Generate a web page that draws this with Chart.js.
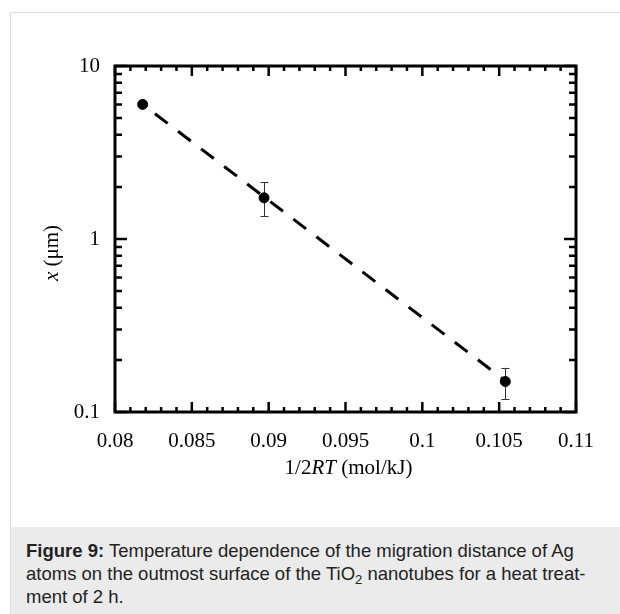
<!DOCTYPE html>
<html>
<head>
<meta charset="utf-8">
<script src="https://cdn.jsdelivr.net/npm/chart.js@4"></script>
<style>
  html, body { margin: 0; padding: 0; background: #fff; }
  #panel {
    position: absolute; left: 10px; top: 12px;
    width: 610px; height: 602px;
    border-left: 1px solid #dcdcdc; border-top: 1px solid #dcdcdc;
    box-sizing: border-box;
  }
  #chart { display: block; }
  #caption {
    position: absolute; left: 0; top: 514px; width: 609px; height: 87px;
    background: #ebebeb; box-sizing: border-box;
    padding: 12px 0 0 15px;
    font: 18.5px "Liberation Sans", Arial, sans-serif; line-height: 23px; color: #222;
    white-space: nowrap;
  }
  #caption sub { font-size: 13px; line-height: 0; vertical-align: -4px; }
</style>
</head>
<body>
<div id="panel">
  <canvas id="chart" width="609" height="514"></canvas>
  <div id="caption"><b>Figure 9:</b> Temperature dependence of the migration distance of Ag<br>atoms on the outmost surface of the TiO<sub>2</sub> nanotubes for a heat treat-<br>ment of 2 h.</div>
</div>
<script>
const xTicks = [0.08, 0.085, 0.09, 0.095, 0.1, 0.105, 0.11];
const yTicks = [0.1, 1, 10];

// measured points, 1/2RT vs x
const invRT  = [0.0818, 0.0897, 0.1054];
const dist   = [6.0, 1.73, 0.150];
const errLo  = [null, 1.35, 0.119];
const errHi  = [null, 2.13, 0.180];

// fitted line (dashed)
const fitX = [0.0826, 0.1053];
const fitY = [5.3, 0.154];

const serif = '"Liberation Serif", "Times New Roman", serif';

const errorBars = {
  id: 'errorBars',
  beforeDatasetsDraw(chart) {
    const { ctx, scales: { x, y } } = chart;
    ctx.save();
    ctx.strokeStyle = '#333';
    ctx.lineWidth = 1;
    invRT.forEach((v, i) => {
      if (errLo[i] == null) return;
      const px = Math.round(x.getPixelForValue(v)) + 0.5;
      const lo = y.getPixelForValue(errLo[i]);
      const hi = y.getPixelForValue(errHi[i]);
      ctx.beginPath();
      ctx.moveTo(px, lo); ctx.lineTo(px, hi);
      ctx.moveTo(px - 4, Math.round(lo) + 0.5); ctx.lineTo(px + 4, Math.round(lo) + 0.5);
      ctx.moveTo(px - 4, Math.round(hi) + 0.5); ctx.lineTo(px + 4, Math.round(hi) + 0.5);
      ctx.stroke();
    });
    ctx.restore();
  }
};

const frame = {
  id: 'frame',
  afterDraw(chart) {
    const { ctx, chartArea: a, scales: { x, y } } = chart;
    ctx.save();
    ctx.strokeStyle = '#000';
    ctx.lineWidth = 2.5;
    ctx.beginPath();
    // x ticks, 0.001 apart, major every 0.005
    const xMin = xTicks[0], xMax = xTicks[xTicks.length - 1];
    const nx = Math.round((xMax - xMin) / 0.001);
    for (let i = 0; i <= nx; i++) {
      const px = x.getPixelForValue(xMin + i * 0.001);
      const len = i % 5 === 0 ? 10 : 5;
      ctx.moveTo(px, a.bottom); ctx.lineTo(px, a.bottom - len);
      ctx.moveTo(px, a.top); ctx.lineTo(px, a.top + len);
    }
    // y ticks, log minors 2..9
    for (let d = 0; d < yTicks.length; d++) {
      const base = yTicks[d];
      for (let m = 1; m <= 9; m++) {
        const v = base * m;
        if (v > yTicks[yTicks.length - 1] + 1e-9) break;
        const py = y.getPixelForValue(v);
        const len = m === 1 ? 12 : 7;
        ctx.moveTo(a.left, py); ctx.lineTo(a.left + len, py);
        ctx.moveTo(a.right, py); ctx.lineTo(a.right - len, py);
      }
    }
    ctx.stroke();
    ctx.lineWidth = 3;
    ctx.strokeRect(a.left, a.top, a.right - a.left, a.bottom - a.top);

    // axis titles
    ctx.fillStyle = '#000';
    ctx.textBaseline = 'middle';
    const cx = (a.left + a.right) / 2 + 3;
    const ty = 455;
    const p1 = '1/2', p3 = ' (mol/kJ)';
    ctx.font = 'italic 21px ' + serif;
    const wRT = ctx.measureText('RT').width;
    ctx.font = '21px ' + serif;
    const w1 = ctx.measureText(p1).width, w3 = ctx.measureText(p3).width;
    let sx = cx - (w1 + wRT + w3) / 2;
    ctx.textAlign = 'left';
    ctx.fillText(p1, sx, ty);
    ctx.font = 'italic 21px ' + serif;
    ctx.fillText('RT', sx + w1, ty);
    ctx.font = '21px ' + serif;
    ctx.fillText(p3, sx + w1 + wRT, ty);

    ctx.translate(41, 240);
    ctx.rotate(-Math.PI / 2);
    ctx.font = 'italic 21px ' + serif;
    const wx = ctx.measureText('x').width;
    ctx.font = '21px ' + serif;
    const wu = ctx.measureText(' (μm)').width;
    sx = -(wx + wu) / 2;
    ctx.font = 'italic 21px ' + serif;
    ctx.fillText('x', sx, 0);
    ctx.font = '21px ' + serif;
    ctx.fillText(' (μm)', sx + wx, 0);
    ctx.restore();
  }
};

new Chart(document.getElementById('chart'), {
  type: 'scatter',
  data: {
    datasets: [
      {
        label: 'data',
        data: invRT.map((v, i) => ({ x: v, y: dist[i] })),
        backgroundColor: '#000',
        borderColor: '#000',
        pointRadius: 5,
        order: 0
      },
      {
        label: 'fit',
        data: fitX.map((v, i) => ({ x: v, y: fitY[i] })),
        showLine: true,
        borderColor: '#000',
        borderWidth: 3,
        borderDash: [16, 13],
        pointRadius: 0,
        order: 1
      }
    ]
  },
  options: {
    responsive: false,
    animation: false,
    events: [],
    layout: { padding: { left: 0, top: 53, right: 44, bottom: 0 } },
    plugins: { legend: { display: false }, tooltip: { enabled: false } },
    scales: {
      x: {
        type: 'linear',
        min: xTicks[0], max: xTicks[xTicks.length - 1],
        afterBuildTicks: s => { s.ticks = xTicks.map(v => ({ value: v })); },
        afterFit: s => { s.height = 115; },
        grid: { display: false, drawTicks: false },
        border: { display: false },
        ticks: { color: '#000', padding: 17, font: { family: serif, size: 21 }, callback: v => String(v) }
      },
      y: {
        type: 'logarithmic',
        min: yTicks[0], max: yTicks[yTicks.length - 1],
        afterBuildTicks: s => { s.ticks = yTicks.map(v => ({ value: v })); },
        afterFit: s => { s.width = 104; },
        grid: { display: false, drawTicks: false },
        border: { display: false },
        ticks: { color: '#000', padding: 15, font: { family: serif, size: 21 }, callback: v => String(v) }
      }
    }
  },
  plugins: [errorBars, frame]
});
</script>
</body>
</html>
